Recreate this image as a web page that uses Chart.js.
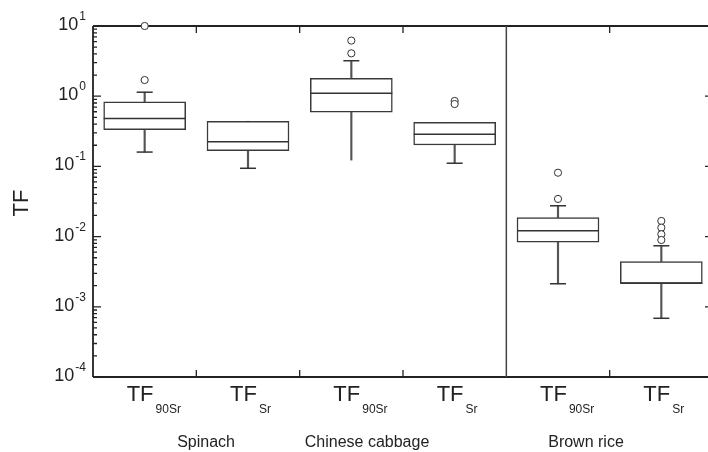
<!DOCTYPE html>
<html>
<head>
<meta charset="utf-8">
<script src="https://cdn.jsdelivr.net/npm/chart.js@4/dist/chart.umd.min.js"></script>
<style>
  html, body { margin: 0; padding: 0; overflow: hidden; background: #fff; }
  #wrap { width: 722px; height: 452px; }
</style>
</head>
<body>
<div id="wrap"><canvas id="tfChart" width="722" height="452"></canvas></div>
<script>
// box plot values (TF, log scale)
var categories = ["TF90Sr", "TFSr", "TF90Sr", "TFSr", "TF90Sr", "TFSr"];
var subLabels = ["90Sr", "Sr", "90Sr", "Sr", "90Sr", "Sr"];
var groups = ["Spinach", "Chinese cabbage", "Brown rice"];
var whiskerLow = [0.16, 0.094, 0.123, 0.111, 0.00213, 0.000686];
var q1 = [0.333, 0.167, 0.59, 0.202, 0.0083, 0.00216];
var median = [0.48, 0.225, 1.10, 0.286, 0.0121, 0.00216];
var q3 = [0.83, 0.44, 1.80, 0.425, 0.0186, 0.0044];
var whiskerHigh = [1.14, 0.44, 3.2, 0.425, 0.0275, 0.0074];
var lowCap = [true, true, false, true, true, true];
var highCap = [true, false, true, false, true, true];
var outlierIdx = [0, 0, 2, 2, 3, 3, 4, 4, 5, 5, 5, 5];
var outlierVal = [10, 1.70, 6.2, 4.08, 0.855, 0.774, 0.0813, 0.0344, 0.0167, 0.0134, 0.0108, 0.00895];
var yTicks = [1e-4, 1e-3, 1e-2, 1e-1, 1, 10];
var yTickExp = ["-4", "-3", "-2", "-1", "0", "1"];

var boxData = [], lowW = [], highW = [], medPts = [], capPts = [], outPts = [];
for (var i = 0; i < categories.length; i++) {
  boxData.push({x: i, y: [q1[i], q3[i]]});
  lowW.push({x: i, y: [whiskerLow[i], q1[i]]});
  highW.push({x: i, y: [q3[i], whiskerHigh[i]]});
  medPts.push({x: i, y: median[i]});
  if (lowCap[i]) capPts.push({x: i, y: whiskerLow[i]});
  if (highCap[i]) capPts.push({x: i, y: whiskerHigh[i]});
}
for (var j = 0; j < outlierIdx.length; j++) {
  outPts.push({x: outlierIdx[j], y: outlierVal[j]});
}

var axisPlugin = {
  id: 'axisPlugin',
  beforeDatasetsDraw: function(chart) {
    var ctx = chart.ctx, a = chart.chartArea;
    var xs = chart.scales.x, ys = chart.scales.y;
    ctx.save();
    ctx.strokeStyle = '#222';
    ctx.lineWidth = 1.8;
    ctx.beginPath();
    ctx.moveTo(a.left, a.top); ctx.lineTo(a.right, a.top);
    ctx.moveTo(a.left, a.bottom); ctx.lineTo(a.right, a.bottom);
    ctx.moveTo(a.left, a.top); ctx.lineTo(a.left, a.bottom);
    ctx.moveTo(a.right, a.top); ctx.lineTo(a.right, a.bottom);
    ctx.stroke();

    // y ticks (inside, both sides)
    ctx.lineWidth = 1.3;
    ctx.beginPath();
    for (var d = -4; d <= 0; d++) {
      for (var m = 1; m <= 9; m++) {
        var y = ys.getPixelForValue(m * Math.pow(10, d));
        var len = m === 1 ? 8 : 4;
        ctx.moveTo(a.left, y); ctx.lineTo(a.left + len, y);
        ctx.moveTo(a.right, y); ctx.lineTo(a.right - len, y);
      }
    }
    ctx.stroke();

    // x ticks between categories
    ctx.beginPath();
    [0.5, 1.5, 2.5, 4.5].forEach(function(v) {
      var x = xs.getPixelForValue(v);
      ctx.moveTo(x, a.top); ctx.lineTo(x, a.top + 7);
      ctx.moveTo(x, a.bottom); ctx.lineTo(x, a.bottom - 7);
    });
    ctx.stroke();

    // separator between vegetables and rice
    ctx.strokeStyle = '#444';
    ctx.lineWidth = 1.5;
    ctx.beginPath();
    var sx = xs.getPixelForValue(3.5);
    ctx.moveTo(sx, a.top); ctx.lineTo(sx, a.bottom);
    ctx.stroke();

    // y tick labels 10^n
    ctx.fillStyle = '#222';
    ctx.textBaseline = 'alphabetic';
    yTicks.forEach(function(v, k) {
      var y = ys.getPixelForValue(v);
      ctx.font = '12px "Liberation Sans", Arial, sans-serif';
      var ew = ctx.measureText(yTickExp[k]).width;
      ctx.textAlign = 'right';
      ctx.fillText(yTickExp[k], 86, y - 6);
      ctx.font = '18px "Liberation Sans", Arial, sans-serif';
      ctx.fillText('10', 86 - ew - 1, y + 4);
    });

    // y title
    ctx.save();
    ctx.translate(28, 203);
    ctx.rotate(-Math.PI / 2);
    ctx.font = '22px "Liberation Sans", Arial, sans-serif';
    ctx.textAlign = 'center';
    ctx.fillText('TF', 0, 0);
    ctx.restore();

    // x labels TF with subscript
    ctx.textAlign = 'left';
    for (var i = 0; i < categories.length; i++) {
      var cx = xs.getPixelForValue(i);
      ctx.font = '22px "Liberation Sans", Arial, sans-serif';
      var tw = ctx.measureText('TF').width;
      ctx.fillText('TF', cx - 18, 401);
      ctx.font = '12px "Liberation Sans", Arial, sans-serif';
      ctx.fillText(subLabels[i], cx - 18 + tw + 2, 413);
    }

    // group labels
    ctx.font = '16px "Liberation Sans", Arial, sans-serif';
    ctx.textAlign = 'center';
    [0.594, 2.152, 4.271].forEach(function(v, g) {
      ctx.fillText(groups[g], xs.getPixelForValue(v), 447);
    });
    ctx.restore();
  }
};

new Chart(document.getElementById('tfChart'), {
  type: 'bar',
  data: {
    datasets: [
      {
        type: 'scatter', data: outPts, order: 0, clip: false,
        pointStyle: 'circle', pointRadius: 3.6, pointBackgroundColor: '#fff',
        pointBorderColor: '#333', pointBorderWidth: 1
      },
      {
        type: 'scatter', data: medPts, order: 1,
        pointStyle: 'line', pointRadius: 41, pointBorderColor: '#333', pointBorderWidth: 1.5
      },
      {
        type: 'scatter', data: capPts, order: 2,
        pointStyle: 'line', pointRadius: 8, pointBorderColor: '#333', pointBorderWidth: 1.5
      },
      {
        data: boxData, order: 3, grouped: false, barThickness: 82,
        backgroundColor: '#fff', borderColor: '#3a3a3a', borderWidth: 1.5, borderSkipped: false
      },
      {
        data: lowW, order: 4, grouped: false, barThickness: 1.5,
        backgroundColor: '#555', borderWidth: 0
      },
      {
        data: highW, order: 4, grouped: false, barThickness: 1.5,
        backgroundColor: '#555', borderWidth: 0
      }
    ]
  },
  options: {
    responsive: false,
    animation: false,
    layout: { autoPadding: false, padding: { left: 93, right: 9, top: 26, bottom: 75 } },
    plugins: { legend: { display: false }, tooltip: { enabled: false } },
    scales: {
      x: { type: 'linear', offset: false, min: -0.5, max: 5.5, display: false, grid: { display: false } },
      y: { type: 'logarithmic', min: 1e-4, max: 10, display: false, grid: { display: false } }
    }
  },
  plugins: [axisPlugin]
});
</script>
</body>
</html>
